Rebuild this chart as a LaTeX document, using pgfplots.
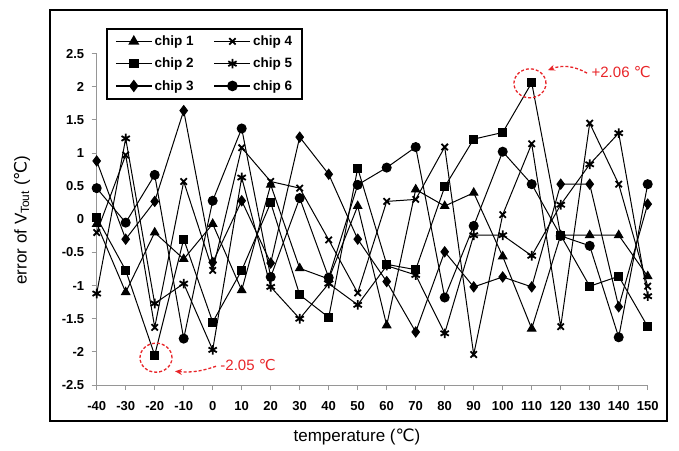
\documentclass[border=0pt]{standalone}
\usepackage{pgfplots}
\pgfplotsset{compat=1.18}
\usepackage{pgfplotstable}
\usepackage{fontspec}
\setmainfont{Liberation Sans}
\newfontfamily\dejavu{DejaVu Sans}
\usetikzlibrary{arrows.meta}
\definecolor{annred}{RGB}{232,36,40}
\definecolor{axgray}{RGB}{150,150,150}
\newcommand{\degc}{{\dejavu ℃}}

% errors of the six chips, one column each
\pgfplotstableread{
t    c1    c2    c3    c4    c5    c6
-40  -0.07  0.03  0.88 -0.20 -1.12  0.47
-30  -1.10 -0.77 -0.30  0.97  1.22 -0.05
-20  -0.20 -2.05  0.27 -1.63 -1.27  0.67
-10  -0.60 -0.30  1.64  0.57 -0.97 -1.80
0    -0.07 -1.55 -0.65 -0.77 -1.97  0.28
10   -1.07 -0.77  0.28  1.08  0.63  1.37
20    0.52  0.25 -0.66  0.57 -1.02 -0.87
30   -0.74 -1.14  1.24  0.47 -1.50  0.32
40   -0.90 -1.48  0.68 -0.31 -0.97 -0.88
50    0.20  0.77 -0.30 -1.11 -1.29  0.52
60   -1.60 -0.68 -0.94  0.27 -0.70  0.78
70    0.45 -0.76 -1.70  0.30 -0.84  1.09
80    0.20  0.49 -0.49  1.09 -1.72 -1.18
90    0.40  1.21 -1.02 -2.04 -0.24 -0.10
100  -0.56  1.31 -0.87  0.07 -0.24  1.02
110  -1.65  2.06 -1.02  1.14 -0.55  0.53
120  -0.24 -0.24  0.53 -1.62  0.22 -0.25
130  -0.24 -1.01  0.53  1.45  0.83 -0.40
140  -0.24 -0.86 -1.32  0.53  1.30 -1.78
150  -0.86 -1.62  0.23 -1.01 -1.16  0.53
}\chipdata

\begin{document}
\begin{tikzpicture}
\begin{axis}[
    scale only axis,
    width=551pt, height=331.4pt,
    xmin=-40, xmax=150, ymin=-2.5, ymax=2.5,
    axis x line*=bottom, axis y line*=left,
    axis line style={axgray, line width=0.8pt},
    tick align=outside, major tick length=5pt,
    tick style={axgray, line width=0.8pt},
    xtick={-40,-30,-20,-10,0,10,20,30,40,50,60,70,80,90,100,110,120,130,140,150},
    xticklabels={-40,-30,-20,-10,0,10,20,30,40,50,60,70,80,90,100,110,120,130,140,150},
    ytick={-2.5,-2,-1.5,-1,-0.5,0,0.5,1,1.5,2,2.5},
    yticklabels={-2.5,-2,-1.5,-1,-0.5,0,0.5,1,1.5,2,2.5},
    ticklabel style={font=\bfseries\fontsize{13}{15}\selectfont, text=black},
    xticklabel style={yshift=-8pt},
    yticklabel style={xshift=-4pt},
    clip=false,
    legend columns=2,
    legend style={at={(0.0169,1.078)}, anchor=north west, draw=black,
        line width=2pt, font=\bfseries\fontsize{13.5}{15}\selectfont,
        inner xsep=8pt, inner ysep=5pt, row sep=7pt,
        /tikz/every even column/.append style={column sep=18pt}},
    legend cell align=left,
    legend image code/.code={
        \draw[line width=1.6pt, mark repeat=2, mark phase=2] plot coordinates {(0pt,0pt) (18pt,0pt) (36pt,0pt)};},
    every axis plot/.append style={black, line width=1pt},
]
\addplot[mark=triangle*, mark size=4.8pt, mark options={solid, fill=black}] table[x=t, y=c1] {\chipdata};
\addlegendentry{chip 1}
\addplot[mark=x, mark size=4.5pt, mark options={solid, line width=1.8pt}] table[x=t, y=c4] {\chipdata};
\addlegendentry{chip 4}
\addplot[mark=square*, mark size=4pt, mark options={solid, fill=black}] table[x=t, y=c2] {\chipdata};
\addlegendentry{chip 2}
\addplot[mark=asterisk, mark size=4.8pt, mark options={solid, line width=1.8pt}] table[x=t, y=c5] {\chipdata};
\addlegendentry{chip 5}
\addplot[mark=diamond*, mark size=5pt, mark options={solid, fill=black}] table[x=t, y=c3] {\chipdata};
\addlegendentry{chip 3}
\addplot[mark=*, mark size=4.5pt, mark options={solid, fill=black}] table[x=t, y=c6] {\chipdata};
\addlegendentry{chip 6}

% red call-outs of the extreme values
\draw[annred, line width=1.3pt, dash pattern=on 3pt off 2pt]
    (axis cs:-19.55,-2.088) ellipse (16pt and 14.5pt);
\draw[annred, line width=1.3pt, dash pattern=on 3pt off 2pt, -{Stealth[length=7pt, width=6pt]}]
    (axis cs:1.14,-2.217) to[bend left=12] (axis cs:-13.0,-2.293);
\node[annred, anchor=west, inner sep=0pt, font=\fontsize{15}{17}\selectfont]
    at (axis cs:2.6,-2.205) {-2.05 \degc};
\draw[annred, line width=1.3pt, dash pattern=on 3pt off 2pt]
    (axis cs:109.4,2.051) ellipse (16pt and 14.5pt);
\draw[annred, line width=1.3pt, dash pattern=on 3pt off 2pt, -{Stealth[length=7pt, width=6pt]}]
    (axis cs:129.1,2.205) to[bend right=25] (axis cs:115.6,2.25);
\node[annred, anchor=west, inner sep=0pt, font=\fontsize{15}{17}\selectfont]
    at (axis cs:130.6,2.22) {+2.06 \degc};
\end{axis}
\draw[line width=2.5pt] (-46.7pt,-36pt) rectangle (570.3pt,375pt);
\node[rotate=90, font=\fontsize{17}{19}\selectfont] at (-74.7pt,165pt)
    {error of V\textsubscript{Tout} (\degc)};
\node[font=\fontsize{17}{19}\selectfont] at (260.3pt,-52pt) {temperature (\degc)};
\pgfresetboundingbox
\path (-96.7pt,-65pt) rectangle (582.3pt,385pt);
\end{tikzpicture}
\end{document}
